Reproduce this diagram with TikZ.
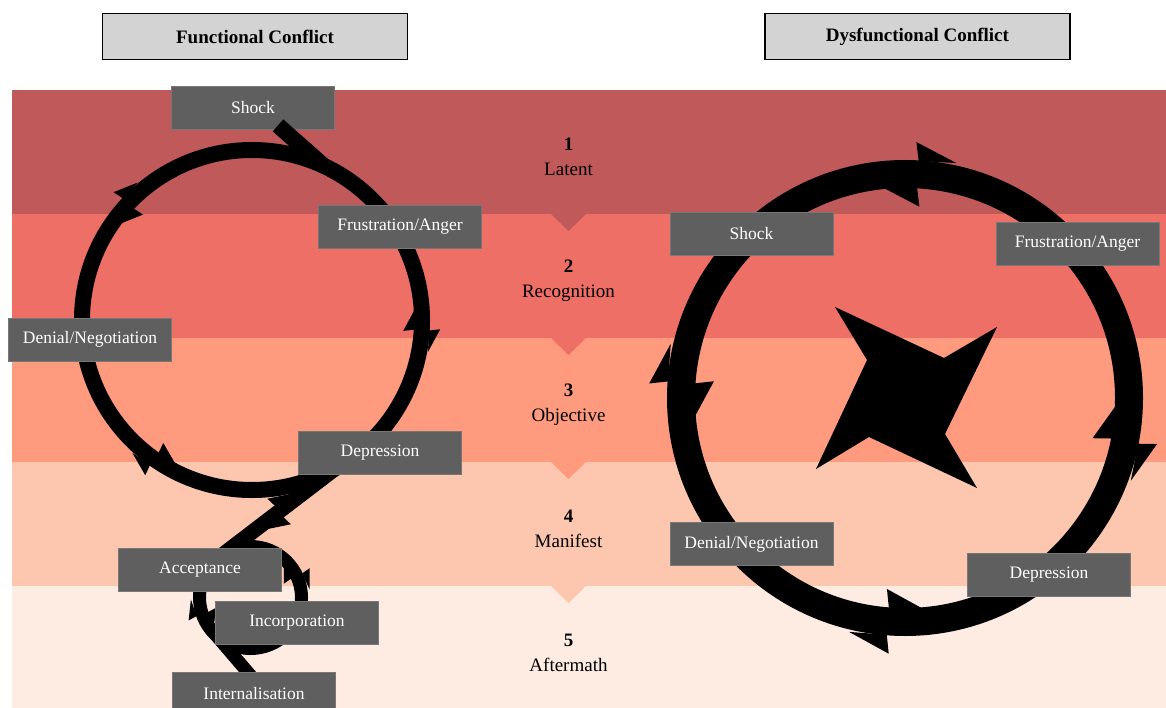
\documentclass[tikz,border=0pt]{standalone}
\usepackage{fontspec}
\setmainfont{Liberation Serif}
\usepackage[HTML]{xcolor}
\usepackage{tikz}
\usetikzlibrary{positioning, calc}

\definecolor{bandA}{HTML}{C05A5A}
\definecolor{bandB}{HTML}{EE6F65}
\definecolor{bandC}{HTML}{FE9A7E}
\definecolor{bandD}{HTML}{FDC7AF}
\definecolor{bandE}{HTML}{FEECE2}
\definecolor{boxgrey}{HTML}{5F5F5F}
\definecolor{headgrey}{HTML}{D3D3D3}

% zig-zag break on a ring: centre, radius, angle, band width
\newcommand{\zjoint}[4]{%
  \begin{scope}[shift={(#1)}, rotate=#3-90]
    \pgfmathsetmacro{\zo}{#2+#4/2}
    \pgfmathsetmacro{\zi}{#2-#4/2}
    \pgfmathsetmacro{\zh}{0.65*#4}
    \pgfmathsetmacro{\zl}{1.35*#4}
    \pgfmathsetmacro{\zk}{0.12*#4}
    \fill (0,\zo-0.5) -- (-\zk,\zo+\zh) -- (\zl,\zo-0.5) -- cycle;
    \fill (0,\zi+0.5) -- (\zk,\zi-\zh) -- (-\zl,\zi+0.5) -- cycle;
  \end{scope}}

\begin{document}
\begin{tikzpicture}[x=1pt, y=1pt,
    phase/.style={fill=boxgrey, draw=boxgrey!85!white, line width=0.8pt, text=white,
      minimum width=163pt, minimum height=43pt, inner sep=0pt,
      font=\fontsize{17.5}{21}\selectfont},
    head/.style={fill=headgrey, draw=black, line width=1.4pt,
      minimum width=305pt, minimum height=46pt, inner sep=0pt,
      font=\fontsize{19}{22}\selectfont\bfseries},
    stage/.style={align=center, inner sep=0pt, font=\fontsize{19}{25}\selectfont},
    band/.style={draw=black, line width=#1}]

    \useasboundingbox (0,0) rectangle (1166,-708);

    % 1. Stage bands
    \foreach \c [count=\i] in {bandA,bandB,bandC,bandD,bandE}
      \fill[\c] (12,{-90-124*(\i-1)}) rectangle (1166,{-214-124*(\i-1)});
    \foreach \c [count=\i] in {bandA,bandB,bandC,bandD}
      \fill[\c] (551,{-214-124*(\i-1)}) -- (586,{-214-124*(\i-1)})
        -- (568.5,{-231-124*(\i-1)}) -- cycle;
    \foreach \name [count=\i] in {Latent,Recognition,Objective,Manifest,Aftermath}
      \node[stage] (stage\i) at (568.5,{-156.5-124*(\i-1)}) {\textbf{\i}\\\name};

    % 2. Headers
    \node[head] (funchead) at (255,-36.5) {Functional Conflict};
    \node[head, right=356pt of funchead] (dysfhead) {Dysfunctional Conflict};

    % 3. Functional cycle
    \coordinate (lc) at (252,-320);
    \coordinate (sc) at (250.5,-597.5);
    \coordinate (ltop) at ([shift={(65:170)}]lc);
    \coordinate (lexit) at ([shift={(-60:170)}]lc);
    \coordinate (sin) at ([shift={(125:51)}]sc);
    \coordinate (sout) at ([shift={(215:51)}]sc);
    \coordinate (lmid) at ($(lexit)!0.5!(sin)$);
    \coordinate (intop) at (251,-676); % top of Internalisation box

    \draw[band=16pt] (lc) circle[radius=170];
    \zjoint{lc}{170}{136.7}{16}
    \zjoint{lc}{170}{-3.4}{16}
    \zjoint{lc}{170}{234.9}{16}
    \draw[band=15pt] (lexit) -- (sin);
    \zjoint{lmid}{0}{306.6}{15}
    \draw[band=13pt] (sc) circle[radius=51];
    \zjoint{sc}{51}{25}{13}
    \zjoint{sc}{51}{199}{13}

    \node[phase] (lshock) at (253,-107.5) {Shock};
    \node[phase] (lfrus) at (400,-226.5) {Frustration/Anger};
    \node[phase] (ldenial) at (90,-339.5) {Denial/Negotiation};
    \node[phase] (ldepr) at (380,-452.5) {Depression};
    \node[phase] (lacc) at (200,-570) {Acceptance};

    % lead-in from Shock and lead-out to Internalisation
    \draw[band=16pt] ([xshift=25pt, yshift=4pt]lshock.south) -- (ltop);
    \draw[band=13pt] (sout) -- (intop);
    \node[phase] (linc) at (297,-622.5) {Incorporation};
    \node[phase] (lint) at (254,-693.5) {Internalisation};

    % 4. Dysfunctional cycle
    \coordinate (rc) at (905,-398);
    \draw[band=28pt] (rc) circle[radius=224];
    \zjoint{rc}{224}{86.7}{28}
    \zjoint{rc}{224}{-11.1}{28}
    \zjoint{rc}{224}{265.6}{28}
    \zjoint{rc}{224}{176}{28}

    % pinwheel in the middle
    \fill (835,-307) -- (944,-358) -- (997,-327) -- (945,-434)
      -- (977,-488) -- (869,-437) -- (816,-469) -- (867,-360) -- cycle;

    \node[phase] (rshock) at (751.5,-233.5) {Shock};
    \node[phase] (rfrus) at (1077.5,-244) {Frustration/Anger};
    \node[phase] (rdenial) at (751.5,-544) {Denial/Negotiation};
    \node[phase] (rdepr) at (1049,-574.5) {Depression};

\end{tikzpicture}
\end{document}
